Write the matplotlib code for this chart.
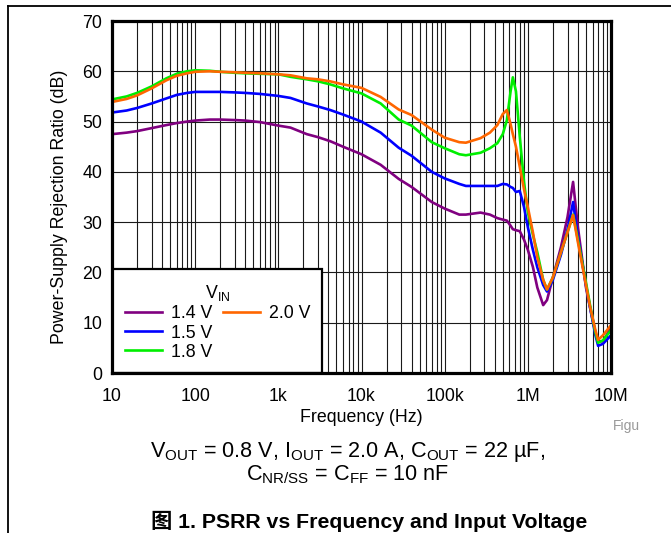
import matplotlib
matplotlib.use("Agg")
import matplotlib.pyplot as plt
from matplotlib.lines import Line2D
from matplotlib.patches import Rectangle
from matplotlib.ticker import FixedLocator, LogLocator, NullFormatter

plt.rcParams['font.family'] = ['Liberation Sans', 'Noto Sans CJK SC', 'DejaVu Sans']
plt.rcParams['mathtext.fontset'] = 'custom'
plt.rcParams['mathtext.rm'] = 'Liberation Sans'
plt.rcParams['mathtext.it'] = 'Liberation Sans:italic'

# 数据
freq = [10, 15, 20, 30, 45, 60, 80, 100, 150, 200, 300, 400, 600, 1000, 1400,
        2200, 3000, 4200, 6000, 10000, 17000, 28000, 40000, 70000, 100000,
        150000, 180000, 270000, 350000, 430000, 500000, 560000, 620000, 660000,
        720000, 800000, 900000, 1000000, 1150000, 1300000, 1530000, 1700000,
        2000000, 2500000, 3000000, 3500000, 4000000, 5000000, 5600000,
        6500000, 7000000, 8000000, 10000000]

psrr_14 = [47.5, 47.8, 48.1, 48.7, 49.3, 49.7, 50.0, 50.2, 50.4, 50.4, 50.3,
           50.2, 49.9, 49.2, 48.8, 47.5, 46.9, 46.1, 45.0, 43.5, 41.4, 38.6,
           37.0, 34.0, 32.7, 31.5, 31.5, 31.9, 31.5, 30.8, 30.5, 30.3, 29.3,
           28.6, 28.4, 28.2, 26.5, 24.5, 21.1, 17.0, 13.5, 14.5, 19.0, 25.0,
           31.0, 38.0, 29.0, 17.0, 13.0, 8.0, 6.3, 6.3, 9.0]
psrr_15 = [51.8, 52.2, 52.7, 53.6, 54.6, 55.3, 55.7, 55.9, 55.9, 55.9, 55.8,
           55.7, 55.5, 55.1, 54.7, 53.6, 53.0, 52.3, 51.4, 50.0, 47.8, 44.8,
           43.2, 40.0, 38.7, 37.6, 37.2, 37.2, 37.2, 37.2, 37.6, 37.5, 37.0,
           36.8, 36.0, 36.2, 33.0, 29.0, 24.5, 21.0, 17.5, 16.2, 18.5, 23.5,
           28.5, 34.0, 27.0, 17.5, 13.0, 7.5, 5.4, 5.8, 7.5]
psrr_18 = [54.4, 55.0, 55.7, 57.0, 58.6, 59.5, 60.0, 60.2, 60.1, 59.9, 59.7,
           59.6, 59.5, 59.4, 58.9, 58.4, 58.0, 57.4, 56.6, 55.6, 53.6, 50.4,
           49.2, 45.9, 44.7, 43.5, 43.3, 43.8, 44.7, 45.7, 47.5, 50.3, 56.0,
           58.8, 56.0, 47.0, 38.0, 32.0, 27.5, 24.0, 18.5, 16.6, 19.0, 24.0,
           28.0, 31.5, 26.5, 18.0, 13.5, 8.0, 6.0, 6.5, 8.5]
psrr_20 = [53.9, 54.5, 55.2, 56.6, 58.2, 59.1, 59.6, 59.9, 60.0, 59.9, 59.8,
           59.7, 59.6, 59.4, 59.2, 58.6, 58.4, 58.0, 57.4, 56.7, 54.9, 52.4,
           51.3, 48.4, 46.8, 45.9, 45.8, 46.7, 47.8, 49.3, 51.5, 52.3, 49.5,
           47.5, 45.0, 41.0, 36.5, 33.0, 28.0, 23.0, 18.5, 16.6, 19.0, 24.0,
           28.0, 31.4, 26.0, 17.5, 13.2, 8.5, 6.6, 7.5, 9.5]

series = [(psrr_14, '1.4 V', '#800080'),
          (psrr_15, '1.5 V', '#0000ff'),
          (psrr_18, '1.8 V', '#00ee00'),
          (psrr_20, '2.0 V', '#ff6600')]

xticks = [10, 100, 1e3, 1e4, 1e5, 1e6, 1e7]
xticklabels = ['10', '100', '1k', '10k', '100k', '1M', '10M']
yticks = [0, 10, 20, 30, 40, 50, 60, 70]

fs = 12.8

fig = plt.figure(figsize=(6.71, 5.33), dpi=100)
ax = fig.add_axes([112 / 671, 1 - 373 / 533, 499 / 671, 352 / 533])

handles = []
for vals, lab, col in series:
    h, = ax.plot(freq, vals, color=col, lw=1.9, label=lab, zorder=3)
    handles.append(h)

ax.set_xscale('log')
ax.set_xlim(10, 1e7)
ax.set_ylim(0, 70)
ax.xaxis.set_major_locator(FixedLocator(xticks))
ax.set_xticklabels(xticklabels)
ax.xaxis.set_minor_locator(LogLocator(base=10, subs=range(2, 10), numticks=100))
ax.xaxis.set_minor_formatter(NullFormatter())
ax.set_yticks(yticks)
ax.tick_params(which='both', length=0, labelsize=fs)
ax.tick_params(axis='x', pad=11)
ax.tick_params(axis='y', pad=7)
ax.grid(which='both', axis='x', color='0.1', lw=0.8)
ax.grid(which='major', axis='y', color='0.1', lw=0.8)
for s in ax.spines.values():
    s.set_linewidth(2.3)
    s.set_zorder(6)
ax.set_xlabel('Frequency (Hz)', fontsize=fs, labelpad=3)

fig.text(60 / 671, 1 - 207 / 533, 'Power-Supply Rejection Ratio (dB)',
         rotation=90, ha='center', va='center', fontsize=fs)

# 图例框
ax.add_patch(Rectangle((0, 0), 210 / 499, 104 / 352, transform=ax.transAxes,
                       facecolor='white', edgecolor='black', lw=1.6, zorder=4))
blank = Line2D([], [], color='none')
leg = ax.legend(handles=[handles[0], handles[1], handles[2], handles[3], blank, blank],
                labels=['1.4 V', '1.5 V', '1.8 V', '2.0 V', '', ''],
                ncol=2, title='V$_{\\mathrm{IN}}$', frameon=False,
                loc='center', bbox_to_anchor=(0.212, 0.145),
                fontsize=fs, title_fontsize=fs, handlelength=2.1,
                handletextpad=0.5, columnspacing=0.6, labelspacing=0.12,
                borderpad=0.2)
leg.set_zorder(7)

fig.text(613 / 671, 1 - 426 / 533, 'Figu', color='#999999', fontsize=10,
         ha='left', va='center')
fig.text(348 / 671, 1 - 452 / 533,
         'V$_{\\mathrm{OUT}}$ = 0.8 V, I$_{\\mathrm{OUT}}$ = 2.0 A, C$_{\\mathrm{OUT}}$ = 22 µF,',
         ha='center', va='center', fontsize=15.6)
fig.text(348 / 671, 1 - 475 / 533,
         'C$_{\\mathrm{NR/SS}}$ = C$_{\\mathrm{FF}}$ = 10 nF',
         ha='center', va='center', fontsize=15.6)
fig.text(369 / 671, 1 - 521 / 533, '图 1. PSRR vs Frequency and Input Voltage',
         ha='center', va='center', fontsize=15.3, fontweight='bold')

# 外框线
fig.add_artist(Line2D([8 / 671, 1], [1 - 6 / 533, 1 - 6 / 533], color='black', lw=1.3))
fig.add_artist(Line2D([8 / 671, 8 / 671], [0, 1 - 6 / 533], color='black', lw=1.3))

fig.savefig('out.png', dpi=100)
